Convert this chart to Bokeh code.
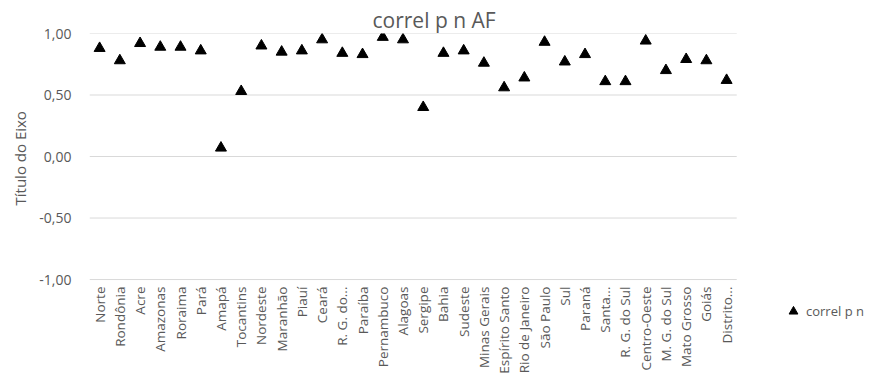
from math import pi
from bokeh.plotting import figure
from bokeh.models import (Range1d, FixedTicker, Legend, LegendItem, Title,
                          ColumnDataSource, CustomJSTickFormatter)
from bokeh.core.properties import value
from bokeh.embed import file_html
from bokeh.resources import INLINE

# ---- data ----
regions = ["Norte", "Rondônia", "Acre", "Amazonas", "Roraima", "Pará", "Amapá",
           "Tocantins", "Nordeste", "Maranhão", "Piauí", "Ceará", "R. G. do...",
           "Paraíba", "Pernambuco", "Alagoas", "Sergipe", "Bahia", "Sudeste",
           "Minas Gerais", "Espírito Santo", "Rio de Janeiro", "São Paulo", "Sul",
           "Paraná", "Santa...", "R. G. do Sul", "Centro-Oeste", "M. G. do Sul",
           "Mato Grosso", "Goiás", "Distrito..."]
correl = [0.88, 0.78, 0.92, 0.89, 0.89, 0.86, 0.07,
          0.53, 0.90, 0.85, 0.86, 0.95, 0.84,
          0.83, 0.97, 0.95, 0.40, 0.84, 0.86,
          0.76, 0.56, 0.64, 0.93, 0.77,
          0.83, 0.61, 0.61, 0.94, 0.70,
          0.79, 0.78, 0.62]
y_ticks = [-1.0, -0.5, 0.0, 0.5, 1.0]
chart_title = "correl p n AF"
series_name = "correl p n"
y_title = "Título do Eixo"

FONT = "Open Sans"
GREY = "#595959"
GRID = "#d9d9d9"

n = len(regions)
slot = [i + 0.5 for i in range(n)]          # category slots along x

src = ColumnDataSource(dict(x=slot, region=regions, value=correl,
                            base=[y_ticks[0]] * n))

# The frame runs to the right and bottom edges of the canvas so that the
# category labels and the legend (outside the plotted area in the reference)
# are drawn; the category block itself fills 653 px of the 791 px frame.
p = figure(width=873, height=375,
           x_range=Range1d(0, n * 791 / 653), y_range=Range1d(-1.78, 1),
           output_backend="svg", toolbar_location=None,
           min_border_left=82, min_border_right=0,
           min_border_top=33, min_border_bottom=0)

# horizontal gridlines across the category block only
p.segment(x0=[0] * len(y_ticks), x1=[n] * len(y_ticks), y0=y_ticks, y1=y_ticks,
          line_color=GRID, line_width=1)

r = p.scatter(x="x", y="value", source=src, marker="triangle",
              size=11, color="black")

# category labels, just under the -1 line
p.text(x="x", y="base", text="region", source=src, angle=pi / 2,
       text_align="right", text_baseline="middle", y_offset=7,
       text_font=value(FONT), text_font_size=value("13.5px"), text_color=GREY)

# title
p.title.text = chart_title
p.title.align = "left"
p.title.text_font = FONT
p.title.text_font_size = "21px"
p.title.text_font_style = "normal"
p.title.text_color = GREY
p.title.standoff = 0
p.title.offset = 283

# y axis
p.yaxis.ticker = FixedTicker(ticks=y_ticks)
p.yaxis.formatter = CustomJSTickFormatter(code="return tick.toFixed(2).replace('.', ',');")
p.yaxis.axis_line_color = None
p.yaxis.major_tick_line_color = None
p.yaxis.minor_tick_line_color = None
p.yaxis.major_label_text_color = GREY
p.yaxis.major_label_text_font = FONT
p.yaxis.major_label_text_font_size = "14px"
p.yaxis.major_label_standoff = 12

ytitle = Title(text=y_title, align="left", offset=170, standoff=14,
               text_font=FONT, text_font_size="15px", text_font_style="normal",
               text_color=GREY)
p.add_layout(ytitle, "left")

p.xaxis.visible = False
p.xgrid.visible = False
p.ygrid.visible = False
p.outline_line_color = None

legend = Legend(items=[LegendItem(label=series_name, renderers=[r])],
                location=(693, 53), padding=0, margin=0, spacing=0,
                glyph_width=22, glyph_height=22, label_standoff=2,
                label_text_font=FONT, label_text_font_size="13px",
                label_text_color=GREY,
                background_fill_alpha=0, border_line_color=None)
p.add_layout(legend, "center")

open("out.html", "w").write(file_html(p, INLINE))
